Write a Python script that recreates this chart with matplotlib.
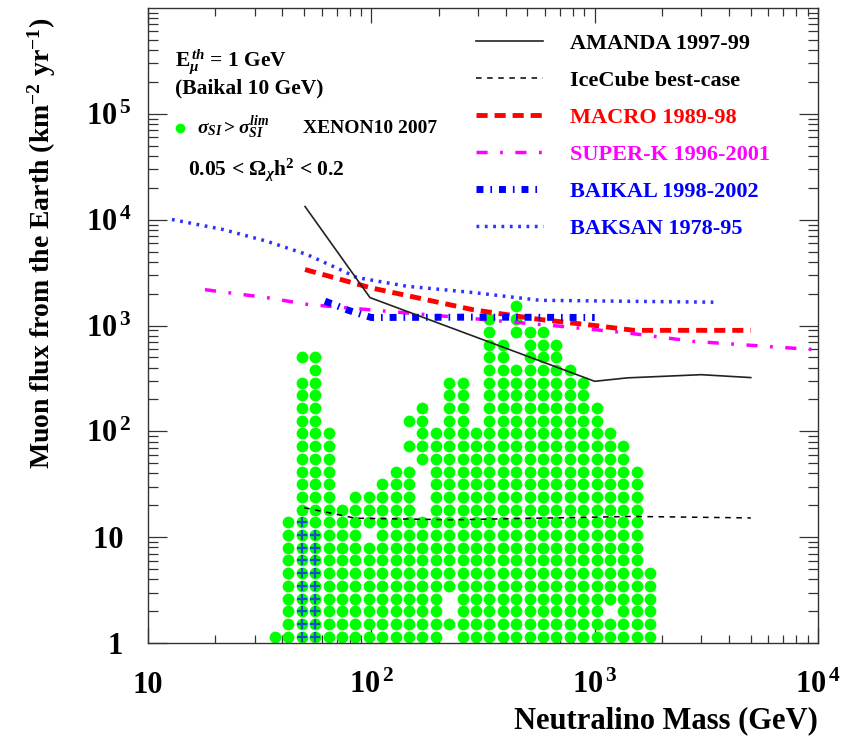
import matplotlib
matplotlib.use("Agg")
import matplotlib.pyplot as plt
from matplotlib.ticker import NullFormatter, LogLocator

plt.rcParams["font.family"] = "Liberation Serif"
plt.rcParams["font.weight"] = "bold"
plt.rcParams["axes.labelweight"] = "bold"
plt.rcParams["mathtext.fontset"] = "custom"
plt.rcParams["mathtext.rm"] = "Liberation Serif:bold"
plt.rcParams["mathtext.it"] = "Liberation Serif:italic:bold"
plt.rcParams["mathtext.bf"] = "Liberation Serif:bold"
plt.rcParams["lines.scale_dashes"] = False

# --- limit curves (mass in GeV, muon flux in km^-2 yr^-1) ---
amanda_m = [50.5, 98.6, 1000, 1400, 3000, 5000]
amanda_f = [13300, 1835, 297, 320, 343, 322]

icecube_m = [50, 85, 230, 1470, 5000]
icecube_f = [19, 15.1, 14.6, 15.7, 15.2]

macro_m = [50.5, 98.6, 285, 570, 1000, 1500, 5000]
macro_f = [3380, 2280, 1410, 1140, 1000, 900, 900]

superk_m = [18, 34.6, 52, 405, 700, 1400, 2770, 8300, 10000]
superk_f = [2180, 1824, 1580, 1090, 984, 851, 708, 604, 590]

baikal_m = [62, 79, 100, 300, 1000]
baikal_f = [1700, 1390, 1190, 1200, 1190]

baksan_m = [12.8, 21.7, 34, 51.4, 72.4, 86, 144, 285, 569, 3400]
baksan_f = [10040, 8070, 6260, 4690, 3380, 2840, 2350, 2050, 1730, 1660]

# --- scan points (XENON10-allowed models): grid of mass / flux bins ---
dot_mass = [37.0, 42.5, 48.8, 56.1, 64.4, 73.9, 84.9, 97.4, 111.9, 128.5,
            147.5, 169.3, 194.5, 223.3, 256.4, 294.4, 338.0, 388.1, 445.6,
            511.6, 587.4, 674.4, 774.3, 889.0, 1020.9, 1172, 1345, 1545, 1774]
dot_flux = [1.15, 1.51, 2.0, 2.63, 3.47, 4.57, 6.03, 7.94, 10.5, 13.8,
            18.2, 24.0, 31.6, 41.7, 55.0, 72.4, 95.5, 126, 166, 219,
            288, 380, 501, 661, 871, 1148, 1514]
# filled flux bins (inclusive index ranges) for each mass bin
dot_rows = [
    [(0, 0)], [(0, 9)], [(0, 20), (22, 22)], [(0, 22)], [(0, 16)],
    [(0, 10)], [(0, 11)], [(0, 7), (9, 11)], [(0, 12)], [(0, 13)],
    [(0, 13), (15, 15), (17, 17)], [(0, 9), (14, 18)], [(0, 16)],
    [(1, 1), (4, 20)], [(0, 20)], [(0, 16)], [(0, 25)], [(0, 23)],
    [(0, 21), (24, 26)], [(0, 24)], [(0, 24)], [(0, 23)], [(0, 21)],
    [(0, 20)], [(0, 18)], [(0, 1), (3, 16)], [(0, 15)], [(0, 13)], [(0, 5)],
]
# models also excluded by XENON10 in another way (blue crosses)
cross_cols = [2, 3]
cross_rows = [(0, 9), (0, 8)]

dot_x, dot_y = [], []
for m, spans in zip(dot_mass, dot_rows):
    for lo, hi in spans:
        for r in range(lo, hi + 1):
            dot_x.append(m)
            dot_y.append(dot_flux[r])
cross_x, cross_y = [], []
for c, (lo, hi) in zip(cross_cols, cross_rows):
    for r in range(lo, hi + 1):
        cross_x.append(dot_mass[c])
        cross_y.append(dot_flux[r])

fig = plt.figure(figsize=(8.54, 7.41), dpi=100, facecolor="white")
ax = fig.add_axes([148 / 854, 1 - 643 / 741, 670 / 854, 635 / 741])

ax.scatter(dot_x, dot_y, s=72, color="#00ff00", linewidths=0, zorder=2)
ax.scatter(cross_x, cross_y, s=45, marker="+", color="#1450c8", linewidths=1.6, zorder=3)

ax.plot(amanda_m, amanda_f, color="#222222", lw=1.2, label="AMANDA 1997-99", zorder=5)
ax.plot(icecube_m, icecube_f, color="black", lw=1.1, dashes=(4, 4),
        label="IceCube best-case", zorder=5)
ax.plot(macro_m, macro_f, color="red", lw=3.5, dashes=(8, 5),
        label="MACRO 1989-98", zorder=4)
ax.plot(superk_m, superk_f, color="magenta", lw=2.5, dashes=(8, 9, 2, 9),
        label="SUPER-K 1996-2001", zorder=4)
ax.plot(baikal_m, baikal_f, color="blue", lw=5, dashes=(5, 5, 1.2, 5),
        label="BAIKAL 1998-2002", zorder=4)
ax.plot(baksan_m, baksan_f, color="#3030ff", lw=2.5, dashes=(2, 4),
        label="BAKSAN 1978-95", zorder=4)

ax.set_xscale("log")
ax.set_yscale("log")
ax.set_xlim(10, 1e4)
ax.set_ylim(1, 1e6)

ax.set_xticks([10, 100, 1000, 10000])
ax.set_xticklabels(["10", r"$\mathbf{10^{\,2}}$", r"$\mathbf{10^{\,3}}$", r"$\mathbf{10^{\,4}}$"])
ax.set_yticks([1, 10, 100, 1000, 1e4, 1e5])
ax.set_yticklabels(["1 ", "10 ", r"$\mathbf{10^{\,2}}$", r"$\mathbf{10^{\,3}}$",
                    r"$\mathbf{10^{\,4}}$", r"$\mathbf{10^{\,5}}$"])
ax.xaxis.set_minor_locator(LogLocator(base=10, subs=range(2, 10), numticks=20))
ax.yaxis.set_minor_locator(LogLocator(base=10, subs=range(2, 10), numticks=20))
ax.xaxis.set_minor_formatter(NullFormatter())
ax.yaxis.set_minor_formatter(NullFormatter())

ax.tick_params(which="both", direction="in", top=True, right=True, width=0.9,
               labelsize=22, color="#333333")
ax.tick_params(axis="x", which="major", length=11, pad=20)
ax.tick_params(axis="x", which="minor", length=5.5)
ax.tick_params(axis="y", which="major", length=14, pad=12)
ax.tick_params(axis="y", which="minor", length=7)
for s in ax.spines.values():
    s.set_linewidth(1.0)
    s.set_color("#333333")

ax.set_xlabel("Neutralino Mass (GeV)", fontsize=22, loc="right")
ax.xaxis.set_label_coords(1.0, -0.10)
ax.set_ylabel(r"Muon flux from the Earth (km$^{-2}$ yr$^{-1}$)", fontsize=20, loc="top")
ax.yaxis.set_label_coords(-0.135, 0.985)

ax.text(0.040, 0.915, r"E$_{\mu}^{\,th}$ = 1 GeV", transform=ax.transAxes,
        fontsize=15.5, va="center")
ax.text(0.040, 0.874, "(Baikal 10 GeV)", transform=ax.transAxes, fontsize=15.5, va="center")
ax.plot([0.048], [0.811], "o", color="#00ff00", ms=7, mew=0, transform=ax.transAxes)
ax.text(0.073, 0.811, r"$\sigma_{SI} > \sigma_{SI}^{lim}$", transform=ax.transAxes,
        fontsize=14, va="center", fontweight="normal")
ax.text(0.231, 0.811, "XENON10 2007", transform=ax.transAxes, fontsize=14, va="center")
ax.text(0.060, 0.745, r"0.05 < $\Omega_{\chi}$h$^{2}$ < 0.2", transform=ax.transAxes,
        fontsize=15.5, va="center")

leg = ax.legend(loc="upper left", bbox_to_anchor=(0.49, 0.96), frameon=False,
                fontsize=16, handlelength=3.0, handletextpad=1.2, labelspacing=0.74,
                borderaxespad=0, borderpad=0,
                labelcolor=["black", "black", "red", "magenta", "blue", "blue"])

fig.savefig("out.png", dpi=100, facecolor="white")
